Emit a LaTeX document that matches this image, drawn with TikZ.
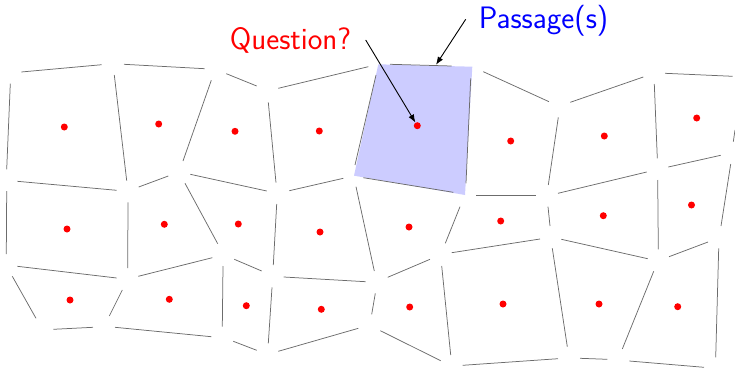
\documentclass[tikz,border=0pt]{standalone}
\usetikzlibrary{arrows.meta}
\begin{document}
\begin{tikzpicture}[x=1pt,y=-1pt,
  edge/.style={draw=gray!85!black,line width=0.75pt},
  seed/.style={circle,fill=red,inner sep=0pt,minimum size=7pt},
  cell/.style={fill=blue!20,draw=none},
  callout/.style={draw=black,line width=0.9pt,-{Latex[length=8pt,width=6pt]}},
  label/.style={font=\sffamily\fontsize{31}{33}\selectfont,inner sep=0pt,anchor=base}]
\useasboundingbox (0,0) rectangle (735,369);
% highlighted cell
\fill[cell] (378.3,64.3) -- (472.3,66.7) -- (465,195) -- (354,175.7) -- cycle;
% cell edges
\foreach \ax/\ay/\bx/\by in {
 21.3/72/101.7/64.7, 124/64.3/204.7/68.7, 226.3/73.7/256.7/86,
 10.3/83.7/6.7/169.3, 114.3/75/126.7/180.7, 211.3/80.3/183/161,
 17.3/181.3/116.7/190.3, 138.7/187/168.3/176, 190.3/174.3/266.7/191,
 185/183.3/217.7/243.7, 6.7/191/6.3/254, 128/202.3/127.7/268,
 278.3/88.3/368.3/66.7, 268.3/102.3/276/182.7, 289.3/190.7/343.3/178.3,
 356/186.7/374.3/271, 276.7/204/273.3/265, 476/195.7/535.7/195.7,
 460/206.7/445.3/243.3, 483.3/71.7/549/101.7,
 390/64.3/451.7/66, 376/75/355/165, 470.7/78.3/466/183.3, 363.3/177.7/453.3/192.3,
 570.3/102.3/643.3/77, 665/73.3/732.7/76.3, 558.3/117.3/548.3/185,
 654.3/84/657.3/158.3, 735/130/733.3/141.7, 558/193.3/646.7/172,
 668.3/167/720.7/155.3, 730.7/164/721/226, 657.7/180/658.3/249.3,
 548/206.7/550/226,
 451.7/252.7/540/239, 561.3/239.3/647.7/258.7, 669/256.7/708/242,
 552.3/248.3/567.3/346.7, 653.7/271.3/622.3/349, 718.7/248.3/715.7/357.3,
 462.7/365.3/558/358.7, 580/358.3/607.3/359.3, 629.3/361/704/367.3,
 234.3/259.3/261.7/271, 283.7/277/365.7/281.7, 387.7/277.3/430/259.3,
 441.7/266/450.7/355, 272/287.3/268.3/343.3, 375.3/293.3/371.7/314.3,
 233.3/341.3/256.7/350.3, 278.3/351.3/358.3/328.3, 380.3/330.7/440.7/360.7,
 17.3/266.3/116.7/278, 138.3/276.3/212.3/257.7, 12.3/276.3/36/318.3,
 122.3/290/109.3/316, 223/266/222.3/326.7, 53.3/329.3/93/327.3,
 115/327.3/211.3/336.7}
 \draw[edge] (\ax,\ay) -- (\bx,\by);
% seeds
\foreach \px/\py [count=\i] in {
 64.3/127, 158.7/124, 235/131.3, 319.3/131, 417.3/125.7, 510.7/141, 604.3/136, 696.7/118,
 67/229, 164.3/224.3, 238.3/224, 320/232, 409/227, 500.7/221, 603.3/215.7, 691.5/205,
 70/300, 169.3/299.3, 246.3/305.7, 321.3/309.3, 409.7/307, 503/304, 599/304, 677.7/306.7}
 \node[seed] (s\i) at (\px,\py) {};
% labels
\node[label,text=red] (q) at (290.5,49.3) {Question?};
\node[label,text=blue] (p) at (543.5,28.3) {Passage(s)};
\coordinate (qstart) at (365.7,40);
\coordinate (pstart) at (465.7,19.3);
\coordinate (ptop) at (436,64.8);
\draw[callout] (qstart) -- (s5);
\draw[callout] (pstart) -- (ptop);
\end{tikzpicture}
\end{document}
